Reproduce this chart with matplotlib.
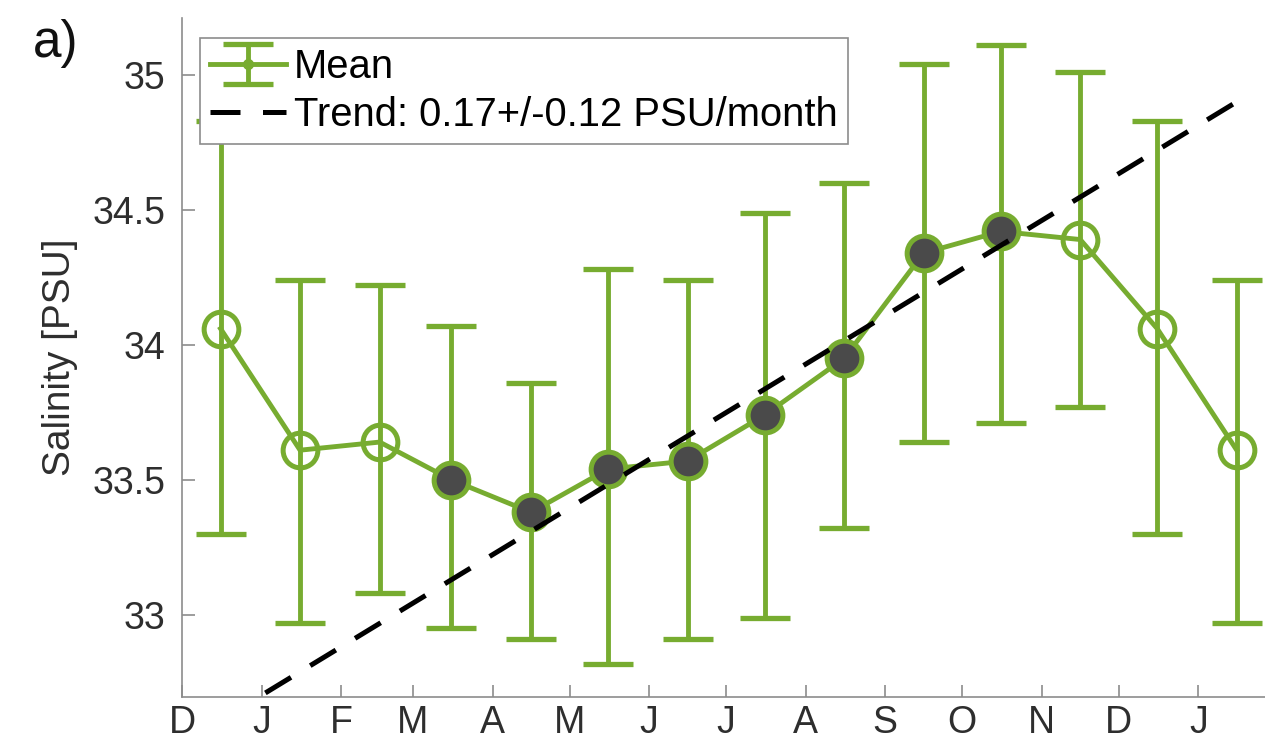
import numpy as np
import matplotlib
matplotlib.use("Agg")
import matplotlib.pyplot as plt
from matplotlib.lines import Line2D

plt.rcParams['font.family'] = ['Liberation Sans', 'DejaVu Sans']

# days in each month, starting from December (D J F M A M J J A S O N D)
month_days = [31, 31, 28, 31, 30, 31, 30, 31, 31, 30, 31, 30, 31]
tick_labels = ['D', 'J', 'F', 'M', 'A', 'M', 'J', 'J', 'A', 'S', 'O', 'N', 'D', 'J']

# monthly mean salinity (Dec .. Jan, cycle repeated at the ends)
mean_sal = [34.06, 33.61, 33.64, 33.50, 33.38, 33.54, 33.57, 33.74, 33.95, 34.34, 34.42, 34.39, 34.06, 33.61]
err_top = [34.83, 34.24, 34.22, 34.07, 33.86, 34.28, 34.24, 34.49, 34.60, 35.04, 35.11, 35.01, 34.83, 34.24]
err_bot = [33.30, 32.97, 33.08, 32.95, 32.91, 32.82, 32.91, 32.99, 33.32, 33.64, 33.71, 33.77, 33.30, 32.97]
filled = [False, False, False, True, True, True, True, True, True, True, True, False, False, False]

# trend line end values (PSU) at first and last mean point
trend_vals = [32.61, 34.90]
trend_label = 'Trend: 0.17+/-0.12 PSU/month'

green = '#77AC30'
face = '#4A4A4A'
axcol = '#8C8C8C'

ticks = np.concatenate([[0], np.cumsum(month_days)])
xmid = ticks + 15
mean_sal = np.array(mean_sal)
yerr = [mean_sal - np.array(err_bot), np.array(err_top) - mean_sal]
filled = np.array(filled)

fig = plt.figure(figsize=(12.65, 7.51), dpi=100)
ax = fig.add_axes([0.1439, 0.0719, 0.8561, 0.904])

h_mean = ax.errorbar(xmid, mean_sal, yerr=yerr, color=green, lw=3.5, elinewidth=3.5,
                     capsize=18, capthick=3.8, zorder=2)
ax.plot(xmid[~filled], mean_sal[~filled], 'o', ms=25, mfc='none', mec=green, mew=3.6, zorder=3)
ax.plot(xmid[filled], mean_sal[filled], 'o', ms=25, mfc=face, mec=green, mew=3.6, zorder=3)

h_trend, = ax.plot([xmid[0], xmid[-1]], trend_vals, color='black', lw=3.6, zorder=4)
h_trend.set_dashes([6, 4.5])

ax.set_xlim(0, 422)
ax.set_ylim(32.696, 35.21)
ax.set_xticks(ticks)
ax.set_xticklabels(tick_labels)
ax.set_yticks([33, 33.5, 34, 34.5, 35])
ax.set_yticklabels(['33', '33.5', '34', '34.5', '35'])

for s in ['top', 'right']:
    ax.spines[s].set_visible(False)
for s in ['left', 'bottom']:
    ax.spines[s].set_color(axcol)
    ax.spines[s].set_linewidth(1.2)
ax.tick_params(direction='in', length=9, width=1.2, color=axcol, labelcolor='#2E2E2E', labelsize=27)
ax.tick_params(axis='x', pad=6)
ax.tick_params(axis='y', pad=12)
ax.set_ylabel('Salinity [PSU]', fontsize=28, color='#2E2E2E', labelpad=10)

# small dot in the middle of the "Mean" legend sample
dot = Line2D([], [], color=green, marker='o', ms=7, ls='none')
leg = ax.legend([(h_mean, dot), h_trend], ['Mean', trend_label], loc='upper left',
                bbox_to_anchor=(0.0166, 0.9705), fontsize=28.8, frameon=True, fancybox=False,
                handlelength=1.9, handletextpad=0.2, borderpad=0.25, labelspacing=0.25,
                borderaxespad=0)
leg.get_frame().set_edgecolor(axcol)
leg.get_frame().set_linewidth(1.2)
leg.get_frame().set_alpha(1)

fig.text(0.026, 0.975, 'a)', fontsize=37, va='top', ha='left', color='#111111')

fig.savefig('out.png', dpi=100)
